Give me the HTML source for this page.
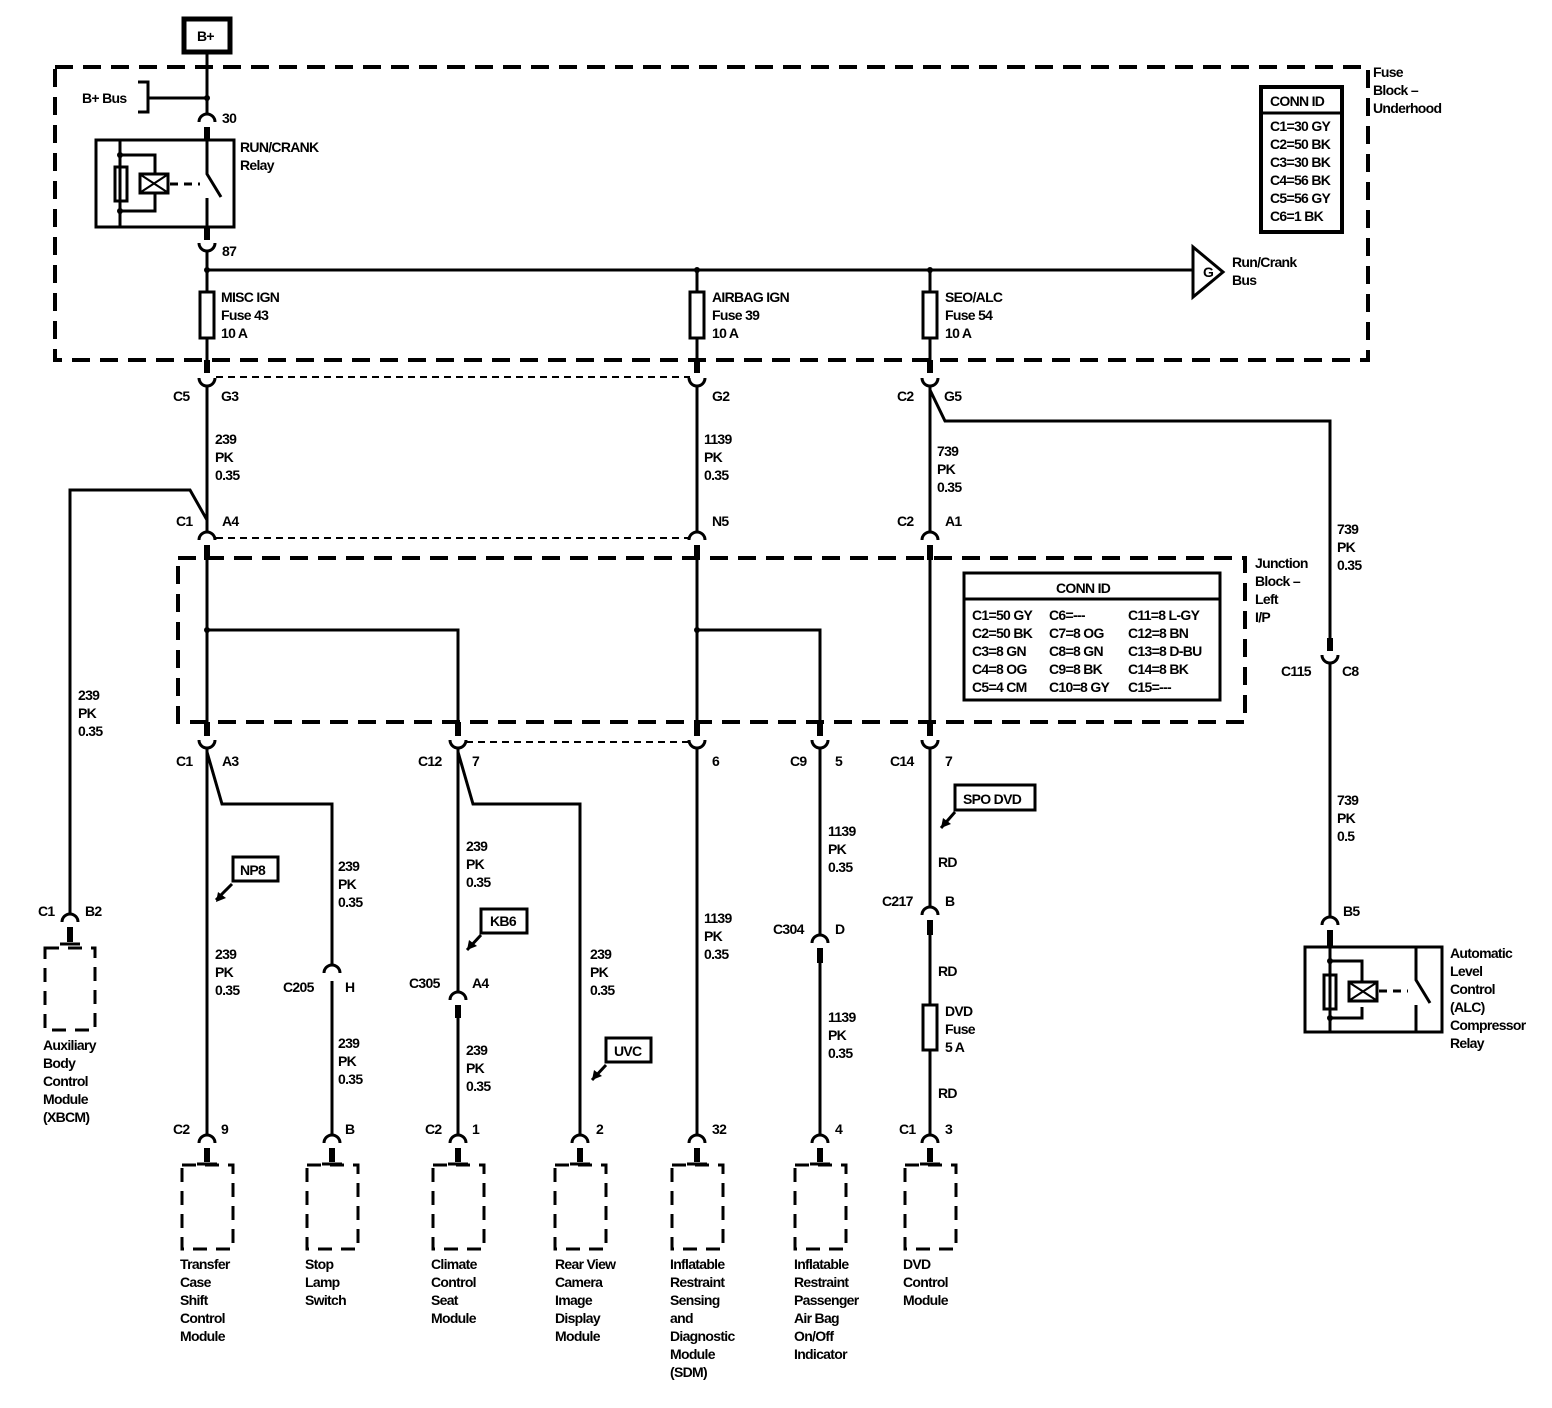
<!DOCTYPE html>
<html><head><meta charset="utf-8"><style>
html,body{margin:0;padding:0;background:#fff}
svg{display:block}
text{font-family:"Liberation Sans",Arial,sans-serif;font-size:14px;font-weight:bold;fill:#000;letter-spacing:-0.7px}
</style></head><body>
<svg width="1552" height="1408" viewBox="0 0 1552 1408" xmlns="http://www.w3.org/2000/svg">
<g fill="none" stroke="#000" stroke-width="3">
<rect x="184" y="19" width="46" height="33" stroke-width="5"/>
<rect x="55" y="67" width="1313" height="293" stroke-dasharray="18,10" stroke-width="4"/>
<rect x="178" y="558" width="1067" height="164" stroke-dasharray="18,10" stroke-width="4"/>
<path d="M207 52 V114"/>
<path d="M207 98 H148 M138 82 H148 V112 H138"/>
<rect x="96" y="140" width="138" height="87"/>
<path d="M207 140 V174 L221 197 M207 198 V227"/>
<path d="M120 140 V227 M120 155 H155 V174 M120 211 H155 V193"/>
<rect x="115" y="167" width="12" height="34"/>
<rect x="140" y="174" width="28" height="19"/>
<path d="M141 175 L167 192 M141 192 L167 175" stroke-width="2"/>
<path d="M170 184 H200" stroke-dasharray="8,6"/>
<path d="M207 251 V292 M207 338 V360"/>
<path d="M207 270 H1193"/>
<path d="M697 270 V292 M697 338 V360 M930 270 V292 M930 338 V360"/>
<rect x="200" y="292" width="14" height="46"/>
<rect x="690" y="292" width="14" height="46"/>
<rect x="923" y="292" width="14" height="46"/>
<path d="M1193 247 V297 L1223 272 Z"/>
<rect x="1261" y="87" width="81" height="145" stroke-width="4"/>
<path d="M1261 113 H1342"/>
<path d="M207 386 V532 M697 386 V532 M930 386 V532"/>
<path d="M216 377 H690" stroke-dasharray="7,5" stroke-width="2"/>
<path d="M930 390 L945 421 H1330 V647"/>
<path d="M207 520 L190 490 H70 V914"/>
<path d="M216 538 H690" stroke-dasharray="7,5" stroke-width="2"/>
<path d="M207 560 V722 M697 560 V722 M930 560 V722"/>
<path d="M207 630 H458 V722 M697 630 H820 V722"/>
<rect x="964" y="573" width="256" height="127"/>
<path d="M964 599 H1220"/>
<path d="M466 742 H690" stroke-dasharray="7,5" stroke-width="2"/>
<path d="M207 748 V1135 M207 752 L222 804 H332 V965"/>
<path d="M332 981 V1135"/>
<path d="M458 748 V992 M458 752 L473 804 H580 V1135"/>
<path d="M458 1018 V1135"/>
<path d="M697 748 V1135"/>
<path d="M820 748 V935 M820 963 V1135"/>
<path d="M930 748 V907 M930 935 V1005 M930 1050 V1135"/>
<rect x="923" y="1005" width="14" height="45"/>
<path d="M1330 663 V917"/>
<rect x="1305" y="947" width="137" height="85"/>
<path d="M1330 947 V1032 M1330 961 H1362 V982 M1330 1018 H1362 V1007"/>
<rect x="1324" y="975" width="12" height="34"/>
<rect x="1349" y="982" width="28" height="19"/>
<path d="M1350 983 L1376 1000 M1350 1000 L1376 983" stroke-width="2"/>
<path d="M1379 991 H1408" stroke-dasharray="8,6"/>
<path d="M1416 947 V980 L1430 1003 M1416 1005 V1032"/>
<rect x="233" y="857" width="45" height="24"/>
<path d="M232 884 L216 900"/>
<rect x="481" y="909" width="46" height="24"/>
<path d="M481 935 L467 950"/>
<rect x="606" y="1038" width="45" height="24"/>
<path d="M606 1065 L592 1080"/>
<rect x="955" y="785" width="80" height="25"/>
<path d="M955 812 L941 828"/>
<g stroke-dasharray="14,9">
<rect x="45" y="948" width="50" height="82"/>
<rect x="182" y="1165" width="51" height="84"/>
<rect x="307" y="1165" width="51" height="84"/>
<rect x="433" y="1165" width="51" height="84"/>
<rect x="555" y="1165" width="51" height="84"/>
<rect x="672" y="1165" width="51" height="84"/>
<rect x="795" y="1165" width="51" height="84"/>
<rect x="905" y="1165" width="51" height="84"/>
</g>
<g stroke-width="3">
<path d="M199 122 A8 8 0 0 1 215 122"/>
<path d="M199 540 A8 8 0 0 1 215 540 M689 540 A8 8 0 0 1 705 540 M922 540 A8 8 0 0 1 938 540"/>
<path d="M324 973 A8 8 0 0 1 340 973"/>
<path d="M450 1000 A8 8 0 0 1 466 1000"/>
<path d="M922 915 A8 8 0 0 1 938 915"/>
<path d="M812 943 A8 8 0 0 1 828 943"/>
<path d="M1322 925 A8 8 0 0 1 1338 925"/>
<path d="M62 922 A8 8 0 0 1 78 922"/>
<path d="M199 1143 A8 8 0 0 1 215 1143 M324 1143 A8 8 0 0 1 340 1143 M450 1143 A8 8 0 0 1 466 1143 M572 1143 A8 8 0 0 1 588 1143 M689 1143 A8 8 0 0 1 705 1143 M812 1143 A8 8 0 0 1 828 1143 M922 1143 A8 8 0 0 1 938 1143"/>
<path d="M199 243 A8 8 0 0 0 215 243"/>
<path d="M199 378 A8 8 0 0 0 215 378 M689 378 A8 8 0 0 0 705 378 M922 378 A8 8 0 0 0 938 378"/>
<path d="M199 740 A8 8 0 0 0 215 740 M450 740 A8 8 0 0 0 466 740 M689 740 A8 8 0 0 0 705 740 M812 740 A8 8 0 0 0 828 740 M922 740 A8 8 0 0 0 938 740"/>
<path d="M1322 655 A8 8 0 0 0 1338 655"/>
</g>
<g stroke-width="6">
<path d="M207 127 V140 M207 227 V240"/>
<path d="M207 360 V373 M697 360 V373 M930 360 V373"/>
<path d="M207 545 V560 M697 545 V560 M930 545 V560"/>
<path d="M207 722 V736 M458 722 V736 M697 722 V736 M820 722 V736 M930 722 V736"/>
<path d="M458 1005 V1018 M930 920 V935 M820 948 V963 M1330 930 V947 M1330 638 V651 M70 927 V942"/>
<path d="M207 1148 V1162 M332 1148 V1162 M458 1148 V1162 M580 1148 V1162 M697 1148 V1162 M820 1148 V1162 M930 1148 V1162"/>
</g>
<g stroke-width="3">
<path d="M60 944 H80 M197 1164 H217 M322 1164 H342 M448 1164 H468 M570 1164 H590 M687 1164 H707 M810 1164 H830 M920 1164 H940"/>
</g>
</g>
<g fill="#000">
<circle cx="207" cy="98" r="3"/><circle cx="207" cy="270" r="3"/><circle cx="697" cy="270" r="3"/><circle cx="930" cy="270" r="3"/>
<circle cx="120" cy="155" r="3"/><circle cx="120" cy="211" r="3"/>
<circle cx="1330" cy="961" r="3"/><circle cx="1330" cy="1018" r="3"/>
<circle cx="207" cy="630" r="3"/><circle cx="697" cy="630" r="3"/>
<path d="M216 902 L218 892 L226 898 Z"/><path d="M467 950 L469 940 L477 946 Z"/><path d="M592 1080 L594 1070 L602 1076 Z"/><path d="M941 828 L943 818 L951 824 Z"/>
</g>
<text x="197" y="41">B+</text>
<text x="82" y="103">B+ Bus</text>
<text x="222" y="123">30</text>
<text x="240" y="152">RUN/CRANK</text><text x="240" y="170">Relay</text>
<text x="222" y="256">87</text>
<text x="1203" y="277">G</text>
<text x="1232" y="267">Run/Crank</text><text x="1232" y="285">Bus</text>
<text x="1373" y="77">Fuse</text><text x="1373" y="95">Block –</text><text x="1373" y="113">Underhood</text>
<text x="1270" y="106">CONN ID</text>
<text x="1270" y="131">C1=30 GY</text><text x="1270" y="149">C2=50 BK</text><text x="1270" y="167">C3=30 BK</text><text x="1270" y="185">C4=56 BK</text><text x="1270" y="203">C5=56 GY</text><text x="1270" y="221">C6=1 BK</text>
<text x="221" y="302">MISC IGN</text><text x="221" y="320">Fuse 43</text><text x="221" y="338">10 A</text>
<text x="712" y="302">AIRBAG IGN</text><text x="712" y="320">Fuse 39</text><text x="712" y="338">10 A</text>
<text x="945" y="302">SEO/ALC</text><text x="945" y="320">Fuse 54</text><text x="945" y="338">10 A</text>
<text x="173" y="401">C5</text><text x="221" y="401">G3</text>
<text x="712" y="401">G2</text>
<text x="897" y="401">C2</text><text x="944" y="401">G5</text>
<text x="215" y="444">239</text><text x="215" y="462">PK</text><text x="215" y="480">0.35</text>
<text x="704" y="444">1139</text><text x="704" y="462">PK</text><text x="704" y="480">0.35</text>
<text x="937" y="456">739</text><text x="937" y="474">PK</text><text x="937" y="492">0.35</text>
<text x="1337" y="534">739</text><text x="1337" y="552">PK</text><text x="1337" y="570">0.35</text>
<text x="176" y="526">C1</text><text x="222" y="526">A4</text>
<text x="712" y="526">N5</text>
<text x="897" y="526">C2</text><text x="945" y="526">A1</text>
<text x="1255" y="568">Junction</text><text x="1255" y="586">Block –</text><text x="1255" y="604">Left</text><text x="1255" y="622">I/P</text>
<text x="1056" y="593">CONN ID</text>
<text x="972" y="620">C1=50 GY</text><text x="1049" y="620">C6=---</text><text x="1128" y="620">C11=8 L-GY</text>
<text x="972" y="638">C2=50 BK</text><text x="1049" y="638">C7=8 OG</text><text x="1128" y="638">C12=8 BN</text>
<text x="972" y="656">C3=8 GN</text><text x="1049" y="656">C8=8 GN</text><text x="1128" y="656">C13=8 D-BU</text>
<text x="972" y="674">C4=8 OG</text><text x="1049" y="674">C9=8 BK</text><text x="1128" y="674">C14=8 BK</text>
<text x="972" y="692">C5=4 CM</text><text x="1049" y="692">C10=8 GY</text><text x="1128" y="692">C15=---</text>
<text x="78" y="700">239</text><text x="78" y="718">PK</text><text x="78" y="736">0.35</text>
<text x="1281" y="676">C115</text><text x="1342" y="676">C8</text>
<text x="176" y="766">C1</text><text x="222" y="766">A3</text>
<text x="418" y="766">C12</text><text x="472" y="766">7</text>
<text x="712" y="766">6</text>
<text x="790" y="766">C9</text><text x="835" y="766">5</text>
<text x="890" y="766">C14</text><text x="945" y="766">7</text>
<text x="963" y="804">SPO DVD</text>
<text x="1337" y="805">739</text><text x="1337" y="823">PK</text><text x="1337" y="841">0.5</text>
<text x="828" y="836">1139</text><text x="828" y="854">PK</text><text x="828" y="872">0.35</text>
<text x="338" y="871">239</text><text x="338" y="889">PK</text><text x="338" y="907">0.35</text>
<text x="466" y="851">239</text><text x="466" y="869">PK</text><text x="466" y="887">0.35</text>
<text x="240" y="875">NP8</text>
<text x="938" y="867">RD</text>
<text x="882" y="906">C217</text><text x="945" y="906">B</text>
<text x="38" y="916">C1</text><text x="85" y="916">B2</text>
<text x="1343" y="916">B5</text>
<text x="490" y="926">KB6</text>
<text x="773" y="934">C304</text><text x="835" y="934">D</text>
<text x="704" y="923">1139</text><text x="704" y="941">PK</text><text x="704" y="959">0.35</text>
<text x="215" y="959">239</text><text x="215" y="977">PK</text><text x="215" y="995">0.35</text>
<text x="590" y="959">239</text><text x="590" y="977">PK</text><text x="590" y="995">0.35</text>
<text x="938" y="976">RD</text>
<text x="283" y="992">C205</text><text x="345" y="992">H</text>
<text x="409" y="988">C305</text><text x="472" y="988">A4</text>
<text x="1450" y="958">Automatic</text><text x="1450" y="976">Level</text><text x="1450" y="994">Control</text><text x="1450" y="1012">(ALC)</text><text x="1450" y="1030">Compressor</text><text x="1450" y="1048">Relay</text>
<text x="945" y="1016">DVD</text><text x="945" y="1034">Fuse</text><text x="945" y="1052">5 A</text>
<text x="828" y="1022">1139</text><text x="828" y="1040">PK</text><text x="828" y="1058">0.35</text>
<text x="338" y="1048">239</text><text x="338" y="1066">PK</text><text x="338" y="1084">0.35</text>
<text x="466" y="1055">239</text><text x="466" y="1073">PK</text><text x="466" y="1091">0.35</text>
<text x="614" y="1056">UVC</text>
<text x="938" y="1098">RD</text>
<text x="43" y="1050">Auxiliary</text><text x="43" y="1068">Body</text><text x="43" y="1086">Control</text><text x="43" y="1104">Module</text><text x="43" y="1122">(XBCM)</text>
<text x="173" y="1134">C2</text><text x="221" y="1134">9</text>
<text x="345" y="1134">B</text>
<text x="425" y="1134">C2</text><text x="472" y="1134">1</text>
<text x="596" y="1134">2</text>
<text x="712" y="1134">32</text>
<text x="835" y="1134">4</text>
<text x="899" y="1134">C1</text><text x="945" y="1134">3</text>
<text x="180" y="1269">Transfer</text><text x="180" y="1287">Case</text><text x="180" y="1305">Shift</text><text x="180" y="1323">Control</text><text x="180" y="1341">Module</text>
<text x="305" y="1269">Stop</text><text x="305" y="1287">Lamp</text><text x="305" y="1305">Switch</text>
<text x="431" y="1269">Climate</text><text x="431" y="1287">Control</text><text x="431" y="1305">Seat</text><text x="431" y="1323">Module</text>
<text x="555" y="1269">Rear View</text><text x="555" y="1287">Camera</text><text x="555" y="1305">Image</text><text x="555" y="1323">Display</text><text x="555" y="1341">Module</text>
<text x="670" y="1269">Inflatable</text><text x="670" y="1287">Restraint</text><text x="670" y="1305">Sensing</text><text x="670" y="1323">and</text><text x="670" y="1341">Diagnostic</text><text x="670" y="1359">Module</text><text x="670" y="1377">(SDM)</text>
<text x="794" y="1269">Inflatable</text><text x="794" y="1287">Restraint</text><text x="794" y="1305">Passenger</text><text x="794" y="1323">Air Bag</text><text x="794" y="1341">On/Off</text><text x="794" y="1359">Indicator</text>
<text x="903" y="1269">DVD</text><text x="903" y="1287">Control</text><text x="903" y="1305">Module</text>
</svg>
</body></html>
